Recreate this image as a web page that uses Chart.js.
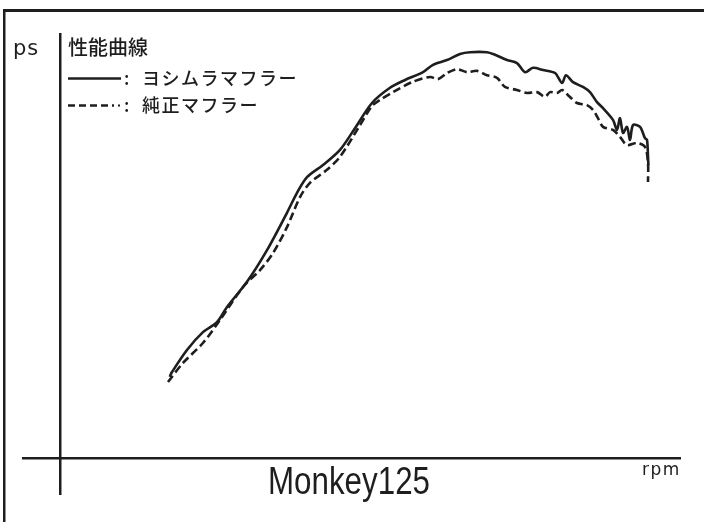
<!DOCTYPE html>
<html>
<head>
<meta charset="utf-8">
<script src="https://cdn.jsdelivr.net/npm/chart.js@4"></script>
<style>
  html, body { margin: 0; padding: 0; background: #fff; }
  #wrap { width: 704px; height: 522px; position: relative; }
</style>
</head>
<body>
<div id="wrap"><canvas id="chart"></canvas></div>
<script>
// engine speed (rpm) / power (ps)
const yoshimuraRpm = [1770, 1806, 2048, 2306, 2532, 2694, 3016, 3339, 3661, 3823, 3984, 4242, 4516, 4758, 5032,
  5323, 5565, 5855, 6016, 6242, 6452, 6613, 6887, 7016, 7210, 7371, 7500, 7629, 7790, 7984, 8097, 8161, 8274,
  8435, 8548, 8661, 8758, 8919, 8984, 9032, 9081, 9145, 9194, 9242, 9355, 9435, 9468, 9484, 9490];
const yoshimuraPs = [1.87, 1.98, 2.49, 2.90, 3.13, 3.48, 4.06, 4.79, 5.65, 6.11, 6.47, 6.75, 7.10, 7.60, 8.18,
  8.53, 8.71, 8.89, 9.06, 9.17, 9.31, 9.35, 9.35, 9.29, 9.17, 9.10, 8.89, 8.99, 8.94, 8.87, 8.64, 8.82, 8.66,
  8.55, 8.43, 8.20, 8.06, 7.79, 7.56, 7.83, 7.49, 7.63, 7.33, 7.67, 7.63, 7.37, 7.33, 6.94, 6.75];

const stockRpm = [1742, 1984, 2306, 2581, 2952, 3226, 3435, 3661, 3871, 4032, 4306, 4516, 4839, 5032, 5161,
  5371, 5677, 5968, 6097, 6242, 6403, 6565, 6726, 6887, 7048, 7177, 7371, 7532, 7694, 7823, 7903, 8016, 8097,
  8194, 8339, 8500, 8597, 8677, 8758, 8919, 9032, 9145, 9306, 9435, 9484, 9484];
const stockPs = [1.75, 2.19, 2.65, 3.18, 3.94, 4.33, 4.72, 5.32, 6.01, 6.34, 6.64, 6.94, 7.67, 8.11, 8.25,
  8.43, 8.66, 8.78, 8.73, 8.87, 8.96, 8.89, 8.92, 8.82, 8.76, 8.55, 8.48, 8.41, 8.43, 8.32, 8.43, 8.41, 8.48,
  8.36, 8.18, 8.13, 8.02, 7.83, 7.63, 7.56, 7.40, 7.21, 7.26, 7.17, 6.80, 6.36];

const seriesNames = ['ヨシムラマフラー', '純正マフラー'];
const chartTitle = '性能曲線';
const modelName = 'Monkey125';
const yUnit = 'ps';
const xUnit = 'rpm';

const ink = '#1e1e1e';
const jp = '"Noto Sans CJK JP", "Noto Sans", sans-serif';

const toPoints = (xs, ys) => xs.map((x, i) => ({ x: x, y: ys[i] }));

// frame, axes and labels are drawn around the plot
const sheetPlugin = {
  id: 'sheet',
  afterDraw(chart) {
    const ctx = chart.ctx;
    ctx.save();
    ctx.fillStyle = ink;
    // outer frame (top + left only, the rest is cut off)
    ctx.fillRect(3, 9, 701, 3);
    ctx.fillRect(3, 9, 2.5, 513);
    // axes
    ctx.fillRect(59, 33, 2.5, 462);
    ctx.fillRect(22, 457, 659, 2.5);

    ctx.textBaseline = 'alphabetic';
    ctx.textAlign = 'left';

    ctx.font = '500 21px "DejaVu Sans", sans-serif';
    ctx.letterSpacing = '1px';
    ctx.fillText(yUnit, 13, 55);
    ctx.font = '500 17px "DejaVu Sans", sans-serif';
    ctx.letterSpacing = '1.5px';
    ctx.fillText(xUnit, 642, 475);
    ctx.letterSpacing = '0px';

    ctx.font = '500 20px ' + jp;
    ctx.fillText(chartTitle, 68, 55);

    // legend
    ctx.strokeStyle = ink;
    ctx.lineWidth = 2.5;
    ctx.beginPath();
    ctx.moveTo(68, 78.5);
    ctx.lineTo(121, 78.5);
    ctx.stroke();
    ctx.setLineDash([7, 4]);
    ctx.beginPath();
    ctx.moveTo(68, 105.5);
    ctx.lineTo(114, 105.5);
    ctx.stroke();
    ctx.setLineDash([]);
    ctx.fillRect(118, 104.5, 2, 2);

    ctx.font = '500 18px ' + jp;
    ctx.letterSpacing = '1.5px';
    ctx.fillText(':', 124, 85);
    ctx.fillText(seriesNames[0], 142, 85);
    ctx.fillText(':', 124, 112);
    ctx.fillText(seriesNames[1], 142, 112);
    ctx.letterSpacing = '0px';

    // model name, condensed
    ctx.font = '38px "Liberation Sans Narrow", "Liberation Sans", sans-serif';
    const w = ctx.measureText(modelName).width;
    ctx.translate(268, 494);
    ctx.scale(162 / w, 1);
    ctx.fillText(modelName, 0, 0);
    ctx.restore();
  }
};

new Chart(document.getElementById('chart'), {
  type: 'line',
  data: {
    datasets: [
      {
        label: seriesNames[0],
        data: toPoints(yoshimuraRpm, yoshimuraPs),
        borderColor: ink,
        borderWidth: 2.6,
        pointRadius: 0,
        tension: 0.3,
        fill: false
      },
      {
        label: seriesNames[1],
        data: toPoints(stockRpm, stockPs),
        borderColor: ink,
        borderWidth: 2.6,
        borderDash: [8, 4],
        pointRadius: 0,
        tension: 0.3,
        fill: false
      }
    ]
  },
  options: {
    responsive: true,
    maintainAspectRatio: false,
    animation: false,
    layout: { padding: { left: 60, right: 24, top: 24, bottom: 64 } },
    plugins: { legend: { display: false }, tooltip: { enabled: false } },
    scales: {
      x: { type: 'linear', min: 0, max: 10000, display: false },
      y: { type: 'linear', min: 0, max: 10, display: false }
    }
  },
  plugins: [sheetPlugin]
});
</script>
</body>
</html>
